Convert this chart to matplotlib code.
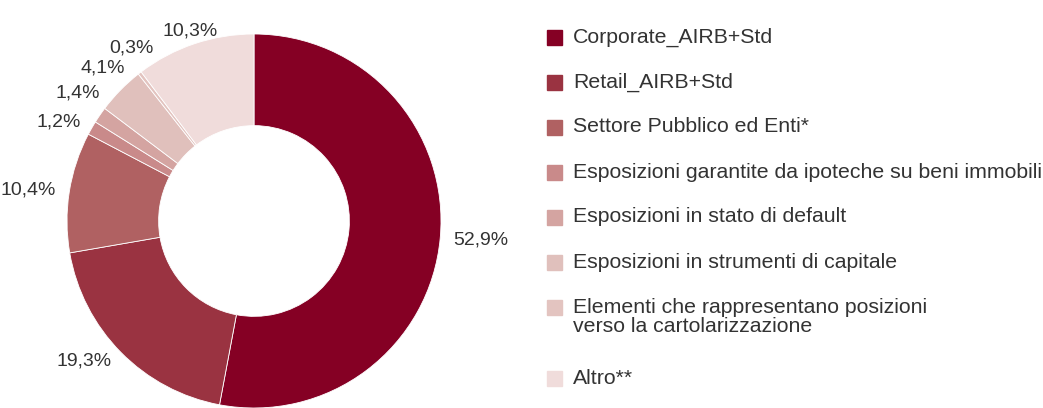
import numpy as np
import matplotlib.pyplot as plt
from matplotlib.patches import Rectangle

plt.rcParams['font.family'] = ['Liberation Sans', 'DejaVu Sans']

categories = ['Corporate_AIRB+Std',
              'Retail_AIRB+Std',
              'Settore Pubblico ed Enti*',
              'Esposizioni garantite da ipoteche su beni immobili',
              'Esposizioni in stato di default',
              'Esposizioni in strumenti di capitale',
              'Elementi che rappresentano posizioni\nverso la cartolarizzazione',
              'Altro**']
values = [52.9, 19.3, 10.4, 1.2, 1.4, 4.1, 0.3, 10.3]
colors = ['#850024', '#9a3341', '#b06162', '#c98a8a',
          '#d4a4a1', '#e0c0bc', '#e3c4c0', '#f0dcdb']

W, H = 1043, 408
fig = plt.figure(figsize=(W / 100, H / 100), dpi=100)

# pie axes: centre at (254, 221) px, radius 187 px
cx, cy, R = 254, 221, 187
ax = fig.add_axes([0, 0, 0.5, 1])

wedges, _ = ax.pie(values, colors=colors, startangle=90, counterclock=False,
                   wedgeprops=dict(width=0.49, edgecolor='white', linewidth=0.6))
for w in wedges:
    w.set_clip_on(False)
axw = 0.5 * W
ax.set_aspect('auto')
ax.set_xlim(-cx / R, (axw - cx) / R)
ax.set_ylim(-(H - cy) / R, cy / R)
ax.axis('off')

# percentage labels at the middle of each wedge, spread apart where slices are tiny
v = np.array(values)
cum = np.cumsum(v) / v.sum() * 360
mid = cum - v / v.sum() * 360 / 2
ang = mid.copy()
for i in range(1, len(ang)):
    if ang[i] - ang[i - 1] < 10:
        ang[i] = ang[i - 1] + 10
r = 1.07
for val, a in zip(values, np.radians(ang)):
    x, y = r * np.sin(a), r * np.cos(a)
    if abs(x) < 0.35:
        ha = 'center'
    else:
        ha = 'left' if x > 0 else 'right'
    ax.text(x, y, f'{val:.1f}%'.replace('.', ','), ha=ha, va='center',
            fontsize=14, color='#333333', clip_on=False)

# legend drawn by hand
fs = 15.3
y = 37
for cat, col in zip(categories, colors):
    nlines = cat.count('\n') + 1
    fig.patches.append(Rectangle((547 / W, 1 - (y + 7.5) / H), 15 / W, 15 / H,
                                 transform=fig.transFigure, color=col))
    yc = y + 10 * (nlines - 1)
    fig.text(573 / W, 1 - yc / H, cat, fontsize=fs, color='#333333',
             va='center', ha='left', linespacing=0.95)
    y += 45 + 26 * (nlines - 1)

fig.savefig('out.png', dpi=100)
